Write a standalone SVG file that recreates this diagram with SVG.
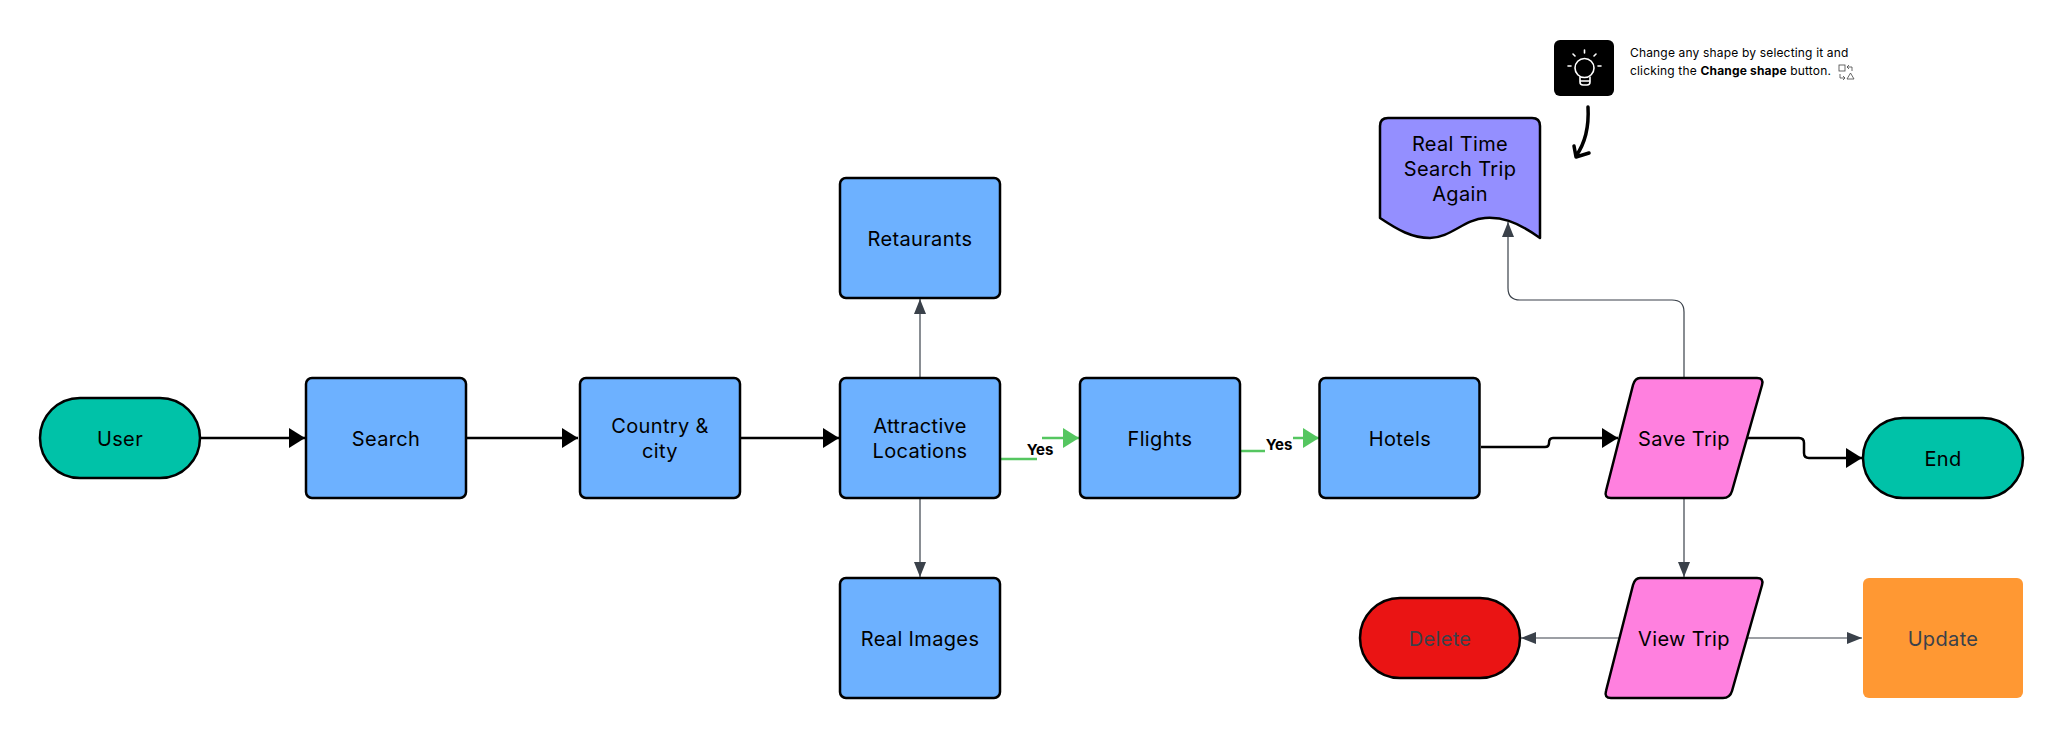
<svg xmlns="http://www.w3.org/2000/svg" width="2063" height="738" viewBox="0 0 2063 738">
<style>
text{font-family:Inter,"Noto Sans","Liberation Sans",sans-serif;font-size:20px;fill:#000;text-anchor:middle;dominant-baseline:central;letter-spacing:.35px}
.s{stroke:#000;stroke-width:2.5;stroke-linejoin:round}
.b{fill:#6db1ff}.t{fill:#00c2a8}.p{fill:#ff80df}
.c{fill:none}
.k{stroke:#000;stroke-width:2.5}
.g{stroke:#3a414a;stroke-width:1.2}
.y{stroke:#55c660;stroke-width:2.5}
.l{font-size:15px;font-weight:700;letter-spacing:0}
.n{font-size:12px;text-anchor:start;dominant-baseline:auto;letter-spacing:.17px}
</style>
<defs>
<marker id="ak" markerUnits="userSpaceOnUse" markerWidth="17" markerHeight="20" refX="16" refY="10" orient="auto"><path d="M0 0L16 10L0 20Z" fill="#000"/></marker>
<marker id="ag" markerUnits="userSpaceOnUse" markerWidth="15" markerHeight="12" refX="15" refY="6" orient="auto"><path d="M0 0L15 6L0 12L0 0Z" fill="#3a414a"/></marker>
<marker id="ay" markerUnits="userSpaceOnUse" markerWidth="17" markerHeight="20" refX="16" refY="10" orient="auto"><path d="M0 0L16 10L0 20Z" fill="#55c660"/></marker>
</defs>
<g id="connectors">
<path class="c k" marker-end="url(#ak)" d="M200 438H305"/>
<path class="c k" marker-end="url(#ak)" d="M467 438H578"/>
<path class="c k" marker-end="url(#ak)" d="M741 438H839"/>
<path class="c g" marker-end="url(#ag)" d="M920 378V299"/>
<path class="c g" marker-end="url(#ag)" d="M920 498V577"/>
<path class="c y" marker-end="url(#ay)" d="M1001 459H1037M1042 438H1079"/>
<path class="c y" marker-end="url(#ay)" d="M1241 451H1265M1293 438H1319"/>
<path class="c k" marker-end="url(#ak)" d="M1481 447H1545Q1549 447 1549 443Q1549 438 1553 438H1618"/>
<path class="c k" marker-end="url(#ak)" d="M1748 438H1799Q1804 438 1804 443V453Q1804 458 1809 458H1862"/>
<path class="c g" marker-end="url(#ag)" d="M1684 378V312Q1684 300 1672 300H1520Q1508 300 1508 288V222"/>
<path class="c g" marker-end="url(#ag)" d="M1684 498V577"/>
<path class="c g" marker-end="url(#ag)" d="M1620 638H1521"/>
<path class="c g" marker-end="url(#ag)" d="M1740 638H1862"/>
<text class="l" x="1040" y="449">Yes</text>
<text class="l" x="1279" y="444">Yes</text>
</g>
<g id="user"><rect class="s t" x="40" y="398" width="160" height="80" rx="40"/><text x="120" y="438.5">User</text></g>
<g id="search"><rect class="s b" x="306" y="378" width="160" height="120" rx="6"/><text x="386" y="438.5">Search</text></g>
<g id="country"><rect class="s b" x="580" y="378" width="160" height="120" rx="6"/><text x="660" y="426">Country &amp;</text><text x="660" y="451">city</text></g>
<g id="attractive"><rect class="s b" x="840" y="378" width="160" height="120" rx="6"/><text x="920" y="426">Attractive</text><text x="920" y="451">Locations</text></g>
<g id="restaurants"><rect class="s b" x="840" y="178" width="160" height="120" rx="6"/><text x="920" y="238.5">Retaurants</text></g>
<g id="images"><rect class="s b" x="840" y="578" width="160" height="120" rx="6"/><text x="920" y="638.5">Real Images</text></g>
<g id="flights"><rect class="s b" x="1080" y="378" width="160" height="120" rx="6"/><text x="1160" y="438.5">Flights</text></g>
<g id="hotels"><rect class="s b" x="1319.5" y="378" width="160" height="120" rx="6"/><text x="1400" y="438.5">Hotels</text></g>
<g id="save"><path class="s p" d="M1640 378H1757Q1764 378 1762 385L1732 491Q1730 498 1723 498H1611Q1604 498 1606 491L1633 385Q1635 378 1640 378Z"/><text x="1684" y="438.5">Save Trip</text></g>
<g id="view"><path class="s p" d="M1640 578H1757Q1764 578 1762 585L1732 691Q1730 698 1723 698H1611Q1604 698 1606 691L1633 585Q1635 578 1640 578Z"/><text x="1684" y="638.5">View Trip</text></g>
<g id="end"><rect class="s t" x="1863" y="418" width="160" height="80" rx="40"/><text x="1943" y="458.5">End</text></g>
<g id="delete"><rect class="s" fill="#ea1414" x="1360" y="598" width="160" height="80" rx="40"/><text x="1440" y="638.5" style="fill:#3a414a">Delete</text></g>
<g id="update"><rect fill="#ff9833" x="1863" y="578" width="160" height="120" rx="6"/><text x="1943" y="638.5" style="fill:#3a414a">Update</text></g>
<g id="document"><path class="s" fill="#948fff" d="M1388 118H1532Q1540 118 1540 126V238C1515 220 1500 217 1485 218C1465 219 1450 238 1430 238C1412 238 1398 230 1380 218V126Q1380 118 1388 118Z"/><text x="1460" y="143.5">Real Time</text><text x="1460" y="168.5">Search Trip</text><text x="1460" y="193.5">Again</text></g>
<g id="tip">
<rect x="1554" y="40" width="60" height="56" rx="6" fill="#000"/>
<g fill="none" stroke="#fff" stroke-width="1.6" stroke-linecap="round"><circle cx="1584.5" cy="68" r="9.5"/><path d="M1580 77V82Q1580 85 1583 85H1587Q1590 85 1590 82V77M1580 81H1590M1584.5 50V53M1573 54L1575 56M1596 54L1594 56M1568 66H1571M1598 66H1601"/></g>
<text class="n" x="1630" y="57">Change any shape by selecting it and</text>
<text class="n" x="1630" y="75">clicking the <tspan font-weight="700">Change shape</tspan> button.</text>
<g fill="none" stroke="#444" stroke-width="0.8"><rect x="1839" y="65" width="6" height="6"/><path d="M1847 79L1854 79L1850.500 73ZM1849 65L1847 67L1849 69M1847 67H1852V71M1840 74V78H1845M1843 76L1845 78L1843 80"/></g>
</g>
<path id="arrow" fill="none" stroke="#000" stroke-width="3.5" stroke-linecap="round" stroke-linejoin="round" d="M1588 107C1589 125 1586 142 1576 156M1574 146L1576 157L1589 153"/>
</svg>
